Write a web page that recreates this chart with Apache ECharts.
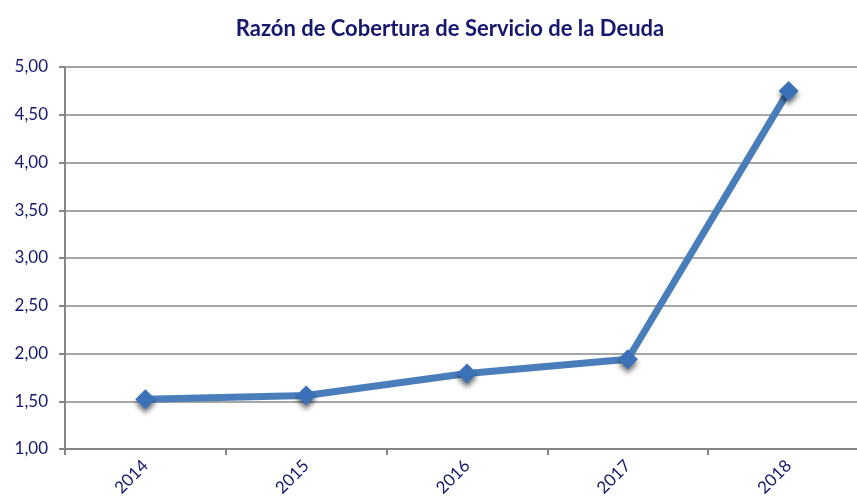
<!DOCTYPE html>
<html><head><meta charset="utf-8">
<script src="https://cdn.jsdelivr.net/npm/echarts@6/dist/echarts.min.js"></script>
<style>html,body{margin:0;padding:0;background:#fff;overflow:hidden}#c{width:869px;height:502px}</style>
</head><body><div id="c"></div>
<script>
const titleText = 'Razón de Cobertura de Servicio de la Deuda';
const categories = ['2014','2015','2016','2017','2018'];
const values = [1.52, 1.56, 1.79, 1.94, 4.75];
const yTicks = {min: 1, max: 5, interval: 0.5};

const chart = echarts.init(document.getElementById('c'), null, {renderer:'canvas'});
const navy = '#17176e';
chart.setOption({
  animation: false,
  backgroundColor: '#fff',
  title: {text: titleText, left: 445, top: 13, textAlign: 'center',
    textStyle: {fontFamily: 'Lato', fontWeight: 'bold', fontSize: 22, color: navy}},
  grid: {left: 65, top: 67, right: 0, height: 382, containLabel: false},
  xAxis: {type: 'category', data: categories, boundaryGap: true,
    axisLine: {lineStyle: {color: '#868686', width: 2}},
    axisTick: {show: true, length: 6, alignWithLabel: false, lineStyle: {color: '#868686', width: 2}},
    axisLabel: {rotate: 45, margin: 14, fontFamily: 'Lato', fontSize: 17, color: navy,
      formatter: v => v}},
  yAxis: {type: 'value', min: yTicks.min, max: yTicks.max, interval: yTicks.interval,
    axisLine: {show: true, lineStyle: {color: '#868686', width: 2}},
    axisTick: {show: true, length: 6, lineStyle: {color: '#868686', width: 2}},
    splitLine: {lineStyle: {color: '#a6a6a6', width: 2}},
    axisLabel: {margin: 17, fontFamily: 'Lato', fontSize: 17, color: navy,
      formatter: v => v.toFixed(2).replace('.', ',')}},
  series: [{type: 'line', data: values,
    lineStyle: {color: '#4a7ebb', width: 7},
    symbol: 'diamond', symbolSize: 20,
    itemStyle: {color: '#3b71b7', shadowBlur: 5, shadowColor: 'rgba(0,0,0,0.55)', shadowOffsetY: 4, shadowOffsetX: 0}
  }]
});
</script></body></html>
